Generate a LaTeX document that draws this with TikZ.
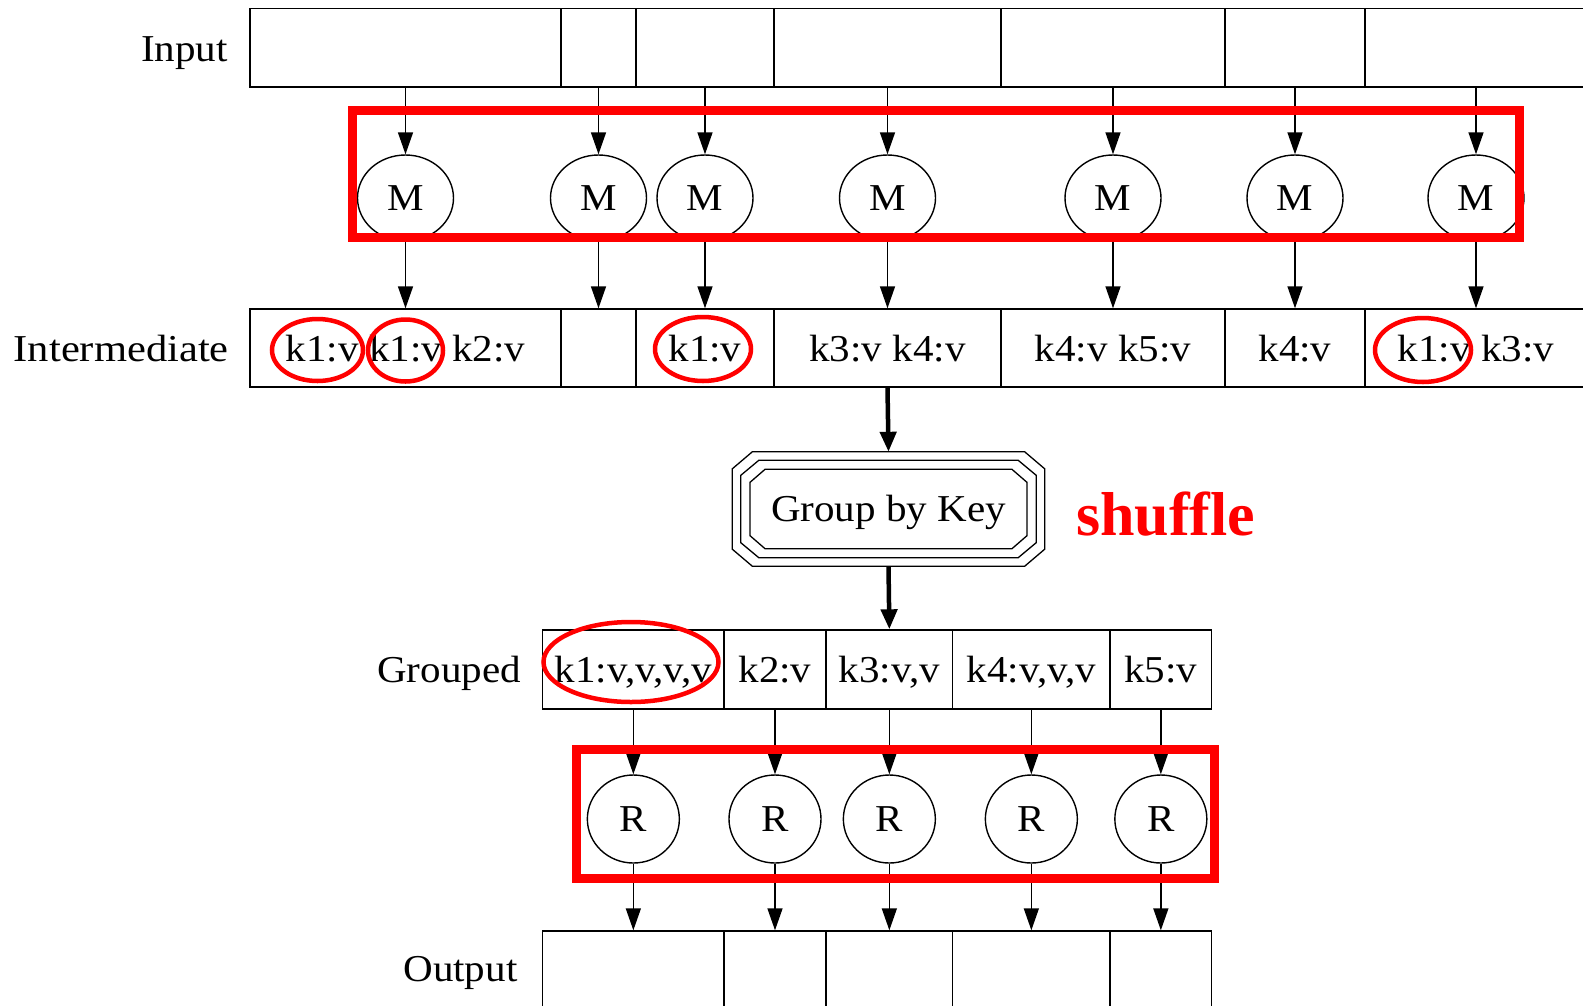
\documentclass[tikz,border=0pt]{standalone}
\usepackage{fontspec}
\setmainfont{Liberation Serif}
\usetikzlibrary{shapes.geometric,arrows.meta}
\definecolor{annot}{RGB}{255,0,0}
\newcommand{\sx}[1]{\scalebox{1.08}[1]{#1}}
\newcommand{\octo}[3]{\draw[line width=1.3pt] ([xshift=#2]#1.north west) -- ([xshift=-#2]#1.north east) -- ([yshift=-#3]#1.north east) -- ([yshift=#3]#1.south east) -- ([xshift=-#2]#1.south east) -- ([xshift=#2]#1.south west) -- ([yshift=#3]#1.south west) -- ([yshift=-#3]#1.north west) -- cycle;}
\begin{document}
\begin{tikzpicture}[x=1pt,y=-1pt,
  txt/.style={font=\fontsize{38pt}{44pt}\selectfont},
  cell/.style={txt, draw, line width=1.4pt, rectangle, inner sep=0pt, text height=26.5pt, text depth=0pt},
  lab/.style={txt, anchor=base east, inner sep=0pt},
  mnode/.style={txt, draw, ellipse, line width=1.4pt, inner sep=0pt, minimum width=96pt, minimum height=86pt},
  rnode/.style={txt, draw, ellipse, line width=1.4pt, inner sep=0pt, minimum width=92pt, minimum height=88pt},
  gbkbox/.style={rectangle, inner sep=0pt},
  arr/.style={line width=1.5pt, -{Triangle[length=22pt,width=15pt]}},
  thickarr/.style={line width=4.5pt, -{Triangle[length=20pt,width=16pt]}},
  redbox/.style={draw=annot, line width=9pt, rectangle, inner sep=0pt},
  redell/.style={draw=annot, line width=4.5pt, ellipse, inner sep=0pt},
]
\useasboundingbox[fill=white] (0,0) rectangle (1583,1005);

% labels
\node[lab] (linput) at (228,61) {\sx{Input}};
\node[lab] (linter) at (229,361) {\scalebox{1.12}[1]{Intermediate}};
\node[lab] (lgroup) at (521,682) {\sx{Grouped}};
\node[lab] (lout) at (517.6,981.5) {\sx{Output}};

% input and intermediate records
\foreach \i/\x/\w/\t in {1/405.5/311/{k1:v k1:v k2:v},2/598.5/75/{},3/705/138/{k1:v},4/887.5/227/{k3:v k4:v},5/1113/224/{k4:v k5:v},6/1295/140/{k4:v},7/1476/222/{k1:v k3:v}}{
  \node[cell, minimum width=\w pt, minimum height=78.5pt] (in\i) at (\x,47.75) {};
  \node[cell, minimum width=\w pt, minimum height=78pt] (im\i) at (\x,348) {\sx{\t}};
  \node[mnode] (M\i) at (\x,198) {\sx{M}};
  \draw[arr] (in\i.south) -- (M\i.north);
  \draw[arr] (M\i.south) -- (im\i.north);
}

% grouped and output records
\foreach \i/\x/\w/\t in {1/633.35/181.3/{k1:v,v,v,v},2/775/102/{k2:v},3/889.35/126.7/{k3:v,v},4/1031.35/157.3/{k4:v,v,v},5/1160.85/101.7/{k5:v}}{
  \node[cell, minimum width=\w pt, minimum height=79pt] (g\i) at (\x,669.5) {\sx{\t}};
  \node[cell, minimum width=\w pt, minimum height=79pt] (o\i) at (\x,970.5) {};
  \node[rnode] (R\i) at (\x,819) {\sx{R}};
  \draw[arr] (g\i.south) -- (R\i.north);
  \draw[arr] (R\i.south) -- (o\i.north);
}

% group by key
\node[gbkbox, minimum width=312pt, minimum height=114pt] (gbk) at (888.5,509) {};
\node[gbkbox, minimum width=295pt, minimum height=97pt] (gbkm) at (gbk.center) {};
\node[gbkbox, txt, minimum width=276.5pt, minimum height=79pt, text height=25.4pt, text depth=0pt] (gbki) at (gbk.center) {\sx{Group by Key}};
\octo{gbk}{20pt}{17pt}
\octo{gbkm}{18pt}{15pt}
\octo{gbki}{15pt}{13pt}
\draw[thickarr] (im4.south) -- (gbk.north);
\draw[thickarr] (gbk.south) -- (g3.north);

% annotations
\node[redbox, minimum width=1167pt, minimum height=127pt] (mapbox) at (935.5,174) {};
\node[redbox, minimum width=638.5pt, minimum height=128.5pt] (redbox2) at (895.25,813.75) {};
\node[redell, minimum width=91pt, minimum height=62pt] (e1) at (317.5,350) {};
\node[redell, minimum width=75pt, minimum height=62pt] (e2) at (405.5,350.5) {};
\node[redell, minimum width=96pt, minimum height=64pt] (e3) at (703,349) {};
\node[redell, minimum width=96pt, minimum height=64pt] (e4) at (1423,350) {};
\node[redell, minimum width=175pt, minimum height=80pt] (e5) at (631,662) {};
\node[anchor=base west, inner sep=0pt, text=annot, font=\fontsize{62pt}{70pt}\selectfont\bfseries] (shuf) at (1076,535) {shuffle};
\end{tikzpicture}
\end{document}
